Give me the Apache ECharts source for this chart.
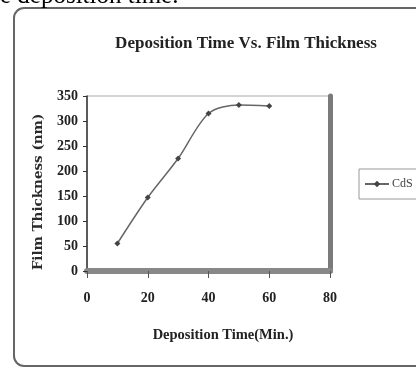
<!DOCTYPE html>
<html>
<head>
<meta charset="utf-8">
<script src="https://cdn.jsdelivr.net/npm/echarts@6/dist/echarts.min.js"></script>
<style>
html,body{margin:0;padding:0;background:#fff;}
#c{width:416px;height:369px;}
</style>
</head>
<body>
<div id="c"></div>
<script>
var depositionTime = [10, 20, 30, 40, 50, 60];
var filmThickness = [55, 147, 225, 315, 332, 330];
var seriesName = 'CdS';
var titleText = 'Deposition Time Vs. Film Thickness';
var xAxisName = 'Deposition Time(Min.)';
var yAxisName = 'Film Thickness (nm)';
var headerText = 'e deposition time.';

var serif = '"Liberation Serif","DejaVu Serif",serif';
var chart = echarts.init(document.getElementById('c'));
var points = depositionTime.map(function (t, i) { return [t, filmThickness[i]]; });

chart.setOption({
  animation: false,
  backgroundColor: '#fff',
  title: {
    text: titleText,
    left: 241, top: 30, textAlign: 'center',
    textStyle: { fontFamily: serif, fontWeight: 'bold', fontSize: 17, color: '#222' }
  },
  graphic: [
    { type: 'rect', shape: { x: 14, y: 8, width: 420, height: 358, r: 10 },
      style: { fill: 'none', stroke: '#666', lineWidth: 2 }, z: -1 },
    { type: 'text', x: 0, y: -4, style: { text: headerText, font: '25px ' + serif, fill: '#000', textVerticalAlign: 'middle' } },
    { type: 'text', x: 38, y: 192, rotation: Math.PI / 2,
      style: { text: yAxisName, font: 'bold 13.5px "DejaVu Serif",serif', fill: '#2a2a2a', textAlign: 'center', textVerticalAlign: 'middle' } },
    { type: 'text', x: 223, y: 335,
      style: { text: xAxisName, font: 'bold 14.5px ' + serif, fill: '#222', textAlign: 'center', textVerticalAlign: 'middle' } }
  ],
  legend: {
    data: [seriesName], left: 359, top: 169,
    orient: 'vertical',
    padding: [9, 4, 9, 5],
    borderColor: '#999', borderWidth: 1,
    itemWidth: 24, itemHeight: 8, itemGap: 2,
    textStyle: { fontFamily: serif, fontSize: 12, color: '#444', padding: [0,0,0,-2] }
  },
  grid: {
    left: 87, right: 86, top: 96, bottom: 98,
    show: true, borderColor: '#aaa', borderWidth: 1, backgroundColor: '#fff'
  },
  xAxis: {
    type: 'value', min: 0, max: 80, interval: 20,
    axisLine: { show: true, lineStyle: { color: '#888', width: 6 } },
    axisTick: { show: true, length: 7, lineStyle: { color: '#555', width: 1 } },
    axisLabel: { margin: 20, fontFamily: serif, fontWeight: 'bold', fontSize: 14, color: '#222' },
    splitLine: { show: false }
  },
  yAxis: [{
    type: 'value', min: 0, max: 350, interval: 50,
    axisLine: { show: true, lineStyle: { color: '#333', width: 1.5 } },
    axisTick: { show: true, length: 4, lineStyle: { color: '#333' } },
    axisLabel: { margin: 9, fontFamily: serif, fontWeight: 'bold', fontSize: 14, color: '#222' },
    splitLine: { show: false }
  }, {
    type: 'value', min: 0, max: 350, interval: 50, position: 'right',
    axisLine: { show: true, lineStyle: { color: '#7a7a7a', width: 5 } },
    axisTick: { show: false }, axisLabel: { show: false }, splitLine: { show: false }
  }],
  series: [{
    name: seriesName, type: 'line', data: points, smooth: 0.3,
    symbol: 'diamond', symbolSize: 6,
    lineStyle: { color: '#666', width: 1.5 },
    itemStyle: { color: '#444' }
  }]
});
</script>
</body>
</html>
